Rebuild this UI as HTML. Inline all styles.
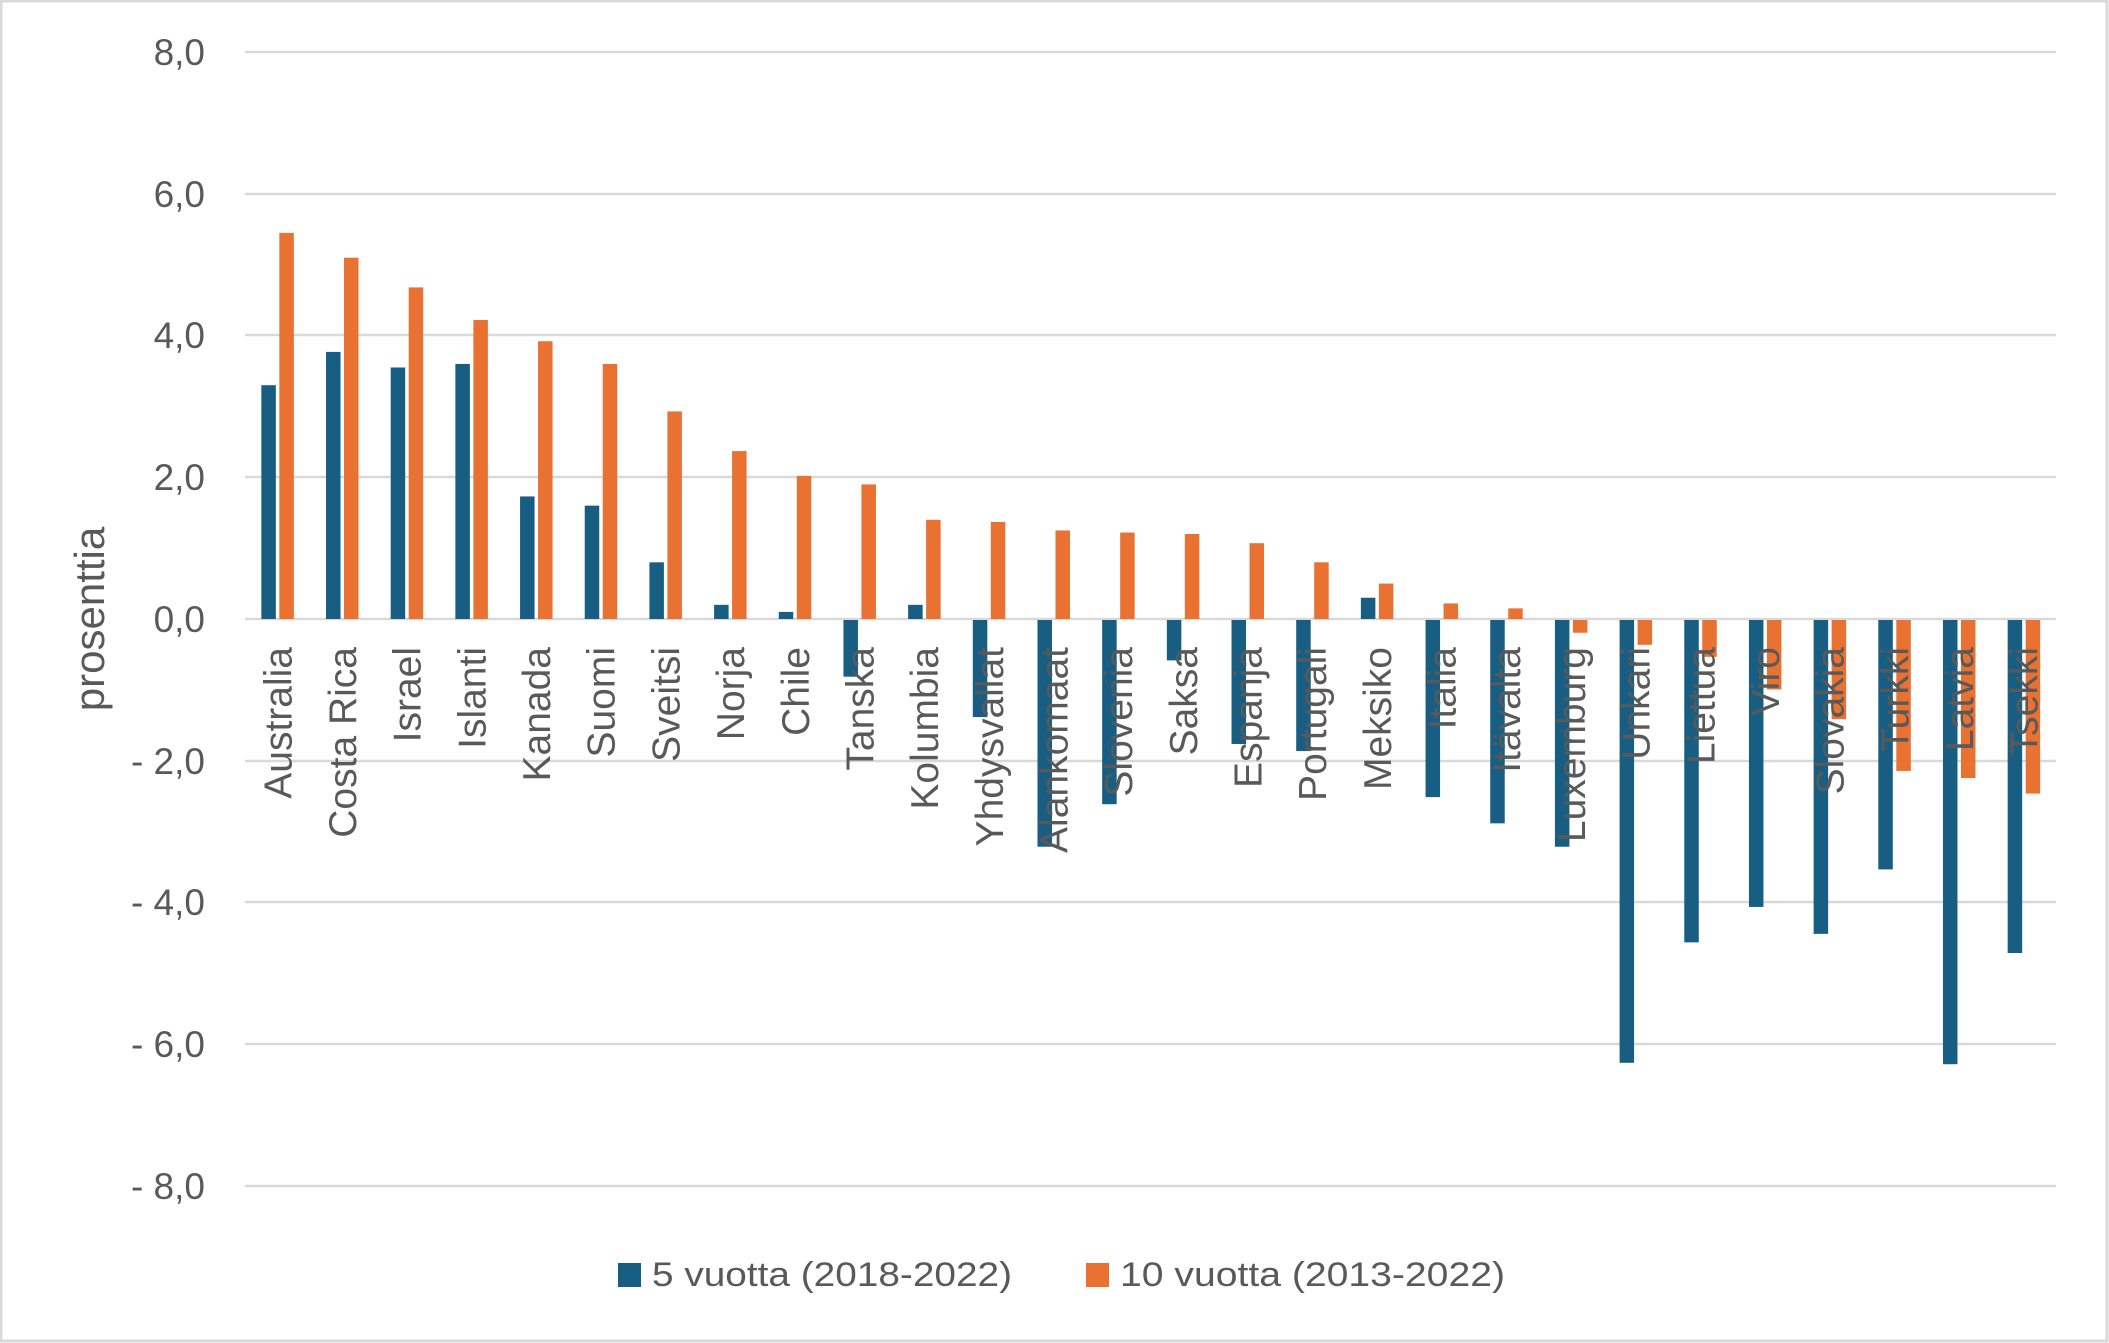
<!DOCTYPE html>
<html><head><meta charset="utf-8"><style>html,body{margin:0;padding:0;background:#fff}svg{display:block}</style></head>
<body>
<svg width="2109" height="1343" xmlns="http://www.w3.org/2000/svg" font-family="Liberation Sans, sans-serif" fill="#595959">
<rect x="1" y="1" width="2106" height="1340" fill="#fff" stroke="#d9d9d9" stroke-width="3"/>
<g stroke="#d9d9d9" stroke-width="2.5">
<line x1="245" x2="2056" y1="52" y2="52"/>
<line x1="245" x2="2056" y1="194" y2="194"/>
<line x1="245" x2="2056" y1="335" y2="335"/>
<line x1="245" x2="2056" y1="477" y2="477"/>
<line x1="245" x2="2056" y1="619" y2="619"/>
<line x1="245" x2="2056" y1="761" y2="761"/>
<line x1="245" x2="2056" y1="902" y2="902"/>
<line x1="245" x2="2056" y1="1044" y2="1044"/>
<line x1="245" x2="2056" y1="1186" y2="1186"/>
</g>
<g font-size="37" text-anchor="end">
<text x="205" y="65">8,0</text>
<text x="205" y="207">6,0</text>
<text x="205" y="348">4,0</text>
<text x="205" y="490">2,0</text>
<text x="205" y="632">0,0</text>
<text x="205" y="774">- 2,0</text>
<text x="205" y="915">- 4,0</text>
<text x="205" y="1057">- 6,0</text>
<text x="205" y="1199">- 8,0</text>
</g>
<text transform="translate(104,619) rotate(-90)" font-size="42" text-anchor="middle">prosenttia</text>
<g id="bars"></g>
<g id="labels" font-size="39" text-anchor="end"></g>
<rect x="618" y="1263" width="23" height="24" fill="#175e82"/>
<text x="652" y="1286" font-size="34" textLength="360" lengthAdjust="spacingAndGlyphs">5 vuotta (2018-2022)</text>
<rect x="1086" y="1263" width="23" height="24" fill="#e97132"/>
<text x="1120" y="1286" font-size="34" textLength="385" lengthAdjust="spacingAndGlyphs">10 vuotta (2013-2022)</text>
</svg>
<script>
var d=[["Australia",3.3,5.45],["Costa Rica",3.77,5.1],["Israel",3.55,4.68],["Islanti",3.6,4.22],["Kanada",1.73,3.92],["Suomi",1.6,3.6],["Sveitsi",0.8,2.93],["Norja",0.2,2.37],["Chile",0.1,2.02],["Tanska",-0.8,1.9],["Kolumbia",0.2,1.4],["Yhdysvallat",-1.37,1.37],["Alankomaat",-3.2,1.25],["Slovenia",-2.6,1.22],["Saksa",-0.57,1.2],["Espanja",-1.75,1.07],["Portugali",-1.85,0.8],["Meksiko",0.3,0.5],["Italia",-2.5,0.22],["Itävalta",-2.87,0.15],["Luxemburg",-3.2,-0.18],["Unkari",-6.25,-0.35],["Liettua",-4.55,-0.52],["Viro",-4.05,-0.98],["Slovakia",-4.43,-1.4],["Turkki",-3.52,-2.13],["Latvia",-6.27,-2.23],["Tsekki",-4.7,-2.45]];
var ns="http://www.w3.org/2000/svg",b=document.getElementById("bars"),l=document.getElementById("labels");
var z=619,u=70.85,w=1811/28;
d.forEach(function(r,i){var c=245+w*(i+0.5);
[[r[1],c-16,"#175e82"],[r[2],c+2,"#e97132"]].forEach(function(s){var h=s[0]*u,e=document.createElementNS(ns,"rect");
e.setAttribute("x",s[1]);e.setAttribute("width",14.5);e.setAttribute("y",h>0?z-h:z+1);e.setAttribute("height",Math.abs(h));e.setAttribute("fill",s[2]);b.appendChild(e);});
var t=document.createElementNS(ns,"text");t.setAttribute("transform","translate("+(c+14)+",647) rotate(-90)");t.textContent=r[0];l.appendChild(t);});
</script>
</body></html>
